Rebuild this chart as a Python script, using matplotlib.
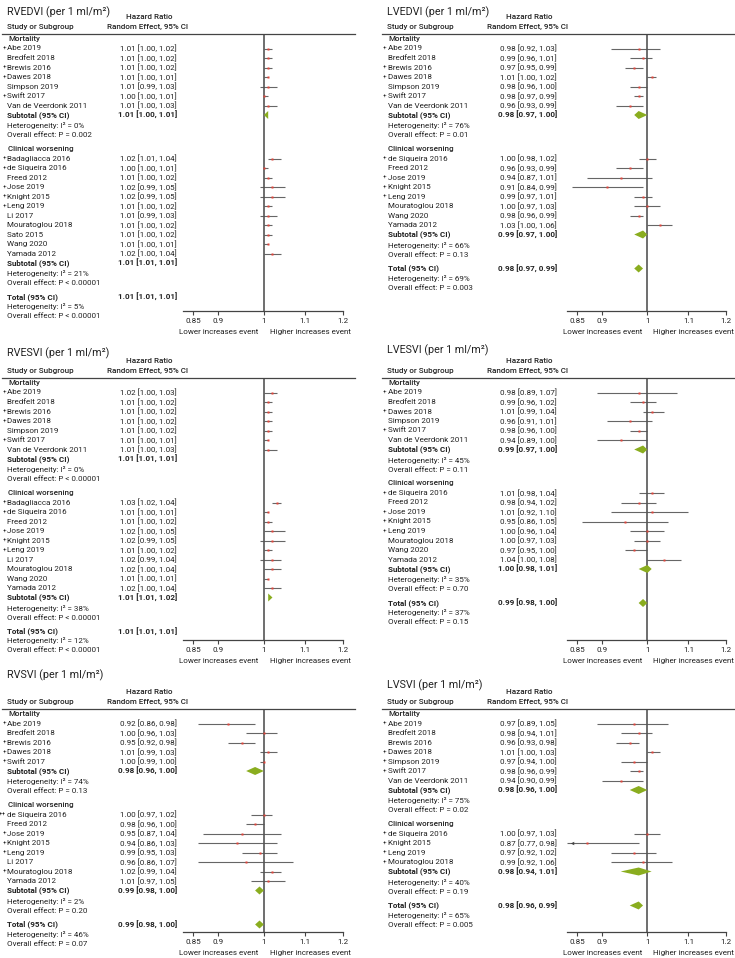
import matplotlib
matplotlib.use('Agg')
import matplotlib.pyplot as plt
from matplotlib import transforms
from matplotlib.lines import Line2D

plt.rcParams['font.family'] = ['Roboto', 'DejaVu Sans']

# ---------------- data ----------------
# RVEDVI
rvedvi_study = ['Abe 2019', 'Bredfelt 2018', 'Brewis 2016', 'Dawes 2018', 'Simpson 2019', 'Swift 2017',
                'Van de Veerdonk 2011', 'Badagliacca 2016', 'de Siqueira 2016', 'Freed 2012', 'Jose 2019',
                'Knight 2015', 'Leng 2019', 'Li 2017', 'Mouratoglou 2018', 'Sato 2015', 'Wang 2020', 'Yamada 2012']
rvedvi_mark = ['+', '', '+', '+', '', '+', '', '+', '+', '', '+', '+', '+', '', '', '', '', '']
rvedvi_n = [7, 11]
rvedvi_hr = [1.01, 1.01, 1.01, 1.01, 1.01, 1.00, 1.01, 1.02, 1.00, 1.01, 1.02, 1.02, 1.01, 1.01, 1.01, 1.01, 1.01, 1.02]
rvedvi_lo = [1.00, 1.00, 1.00, 1.00, 0.99, 1.00, 1.00, 1.01, 1.00, 1.00, 0.99, 0.99, 1.00, 0.99, 1.00, 1.00, 1.00, 1.00]
rvedvi_hi = [1.02, 1.02, 1.02, 1.01, 1.03, 1.01, 1.03, 1.04, 1.01, 1.02, 1.05, 1.05, 1.02, 1.03, 1.02, 1.02, 1.01, 1.04]
rvedvi_pool = [[1.01, 1.00, 1.01], [1.01, 1.01, 1.01], [1.01, 1.01, 1.01]]
rvedvi_i2 = [0, 21, 5]
rvedvi_p = ['P = 0.002', 'P < 0.00001', 'P < 0.00001']

# LVEDVI
lvedvi_study = ['Abe 2019', 'Bredfelt 2018', 'Brewis 2016', 'Dawes 2018', 'Simpson 2019', 'Swift 2017',
                'Van de Veerdonk 2011', 'de Siqueira 2016', 'Freed 2012', 'Jose 2019', 'Knight 2015',
                'Leng 2019', 'Mouratoglou 2018', 'Wang 2020', 'Yamada 2012']
lvedvi_mark = ['+', '', '+', '+', '', '+', '', '+', '', '+', '+', '+', '', '', '']
lvedvi_n = [7, 8]
lvedvi_hr = [0.98, 0.99, 0.97, 1.01, 0.98, 0.98, 0.96, 1.00, 0.96, 0.94, 0.91, 0.99, 1.00, 0.98, 1.03]
lvedvi_lo = [0.92, 0.96, 0.95, 1.00, 0.96, 0.97, 0.93, 0.98, 0.93, 0.87, 0.84, 0.97, 0.97, 0.96, 1.00]
lvedvi_hi = [1.03, 1.01, 0.99, 1.02, 1.00, 0.99, 0.99, 1.02, 0.99, 1.01, 0.99, 1.01, 1.03, 0.99, 1.06]
lvedvi_pool = [[0.98, 0.97, 1.00], [0.99, 0.97, 1.00], [0.98, 0.97, 0.99]]
lvedvi_i2 = [76, 66, 69]
lvedvi_p = ['P = 0.01', 'P = 0.13', 'P = 0.003']

# RVESVI
rvesvi_study = ['Abe 2019', 'Bredfelt 2018', 'Brewis 2016', 'Dawes 2018', 'Simpson 2019', 'Swift 2017',
                'Van de Veerdonk 2011', 'Badagliacca 2016', 'de Siqueira 2016', 'Freed 2012', 'Jose 2019',
                'Knight 2015', 'Leng 2019', 'Li 2017', 'Mouratoglou 2018', 'Wang 2020', 'Yamada 2012']
rvesvi_mark = ['+', '', '+', '+', '', '+', '', '+', '+', '', '+', '+', '+', '', '', '', '']
rvesvi_n = [7, 10]
rvesvi_hr = [1.02, 1.01, 1.01, 1.01, 1.01, 1.01, 1.01, 1.03, 1.01, 1.01, 1.02, 1.02, 1.01, 1.02, 1.02, 1.01, 1.02]
rvesvi_lo = [1.00, 1.00, 1.00, 1.00, 1.00, 1.00, 1.00, 1.02, 1.00, 1.00, 1.00, 0.99, 1.00, 0.99, 1.00, 1.00, 1.00]
rvesvi_hi = [1.03, 1.02, 1.02, 1.02, 1.02, 1.01, 1.03, 1.04, 1.01, 1.02, 1.05, 1.05, 1.02, 1.04, 1.04, 1.01, 1.04]
rvesvi_pool = [[1.01, 1.01, 1.01], [1.01, 1.01, 1.02], [1.01, 1.01, 1.01]]
rvesvi_i2 = [0, 38, 12]
rvesvi_p = ['P < 0.00001', 'P < 0.00001', 'P < 0.00001']

# LVESVI
lvesvi_study = ['Abe 2019', 'Bredfelt 2018', 'Dawes 2018', 'Simpson 2019', 'Swift 2017', 'Van de Veerdonk 2011',
                'de Siqueira 2016', 'Freed 2012', 'Jose 2019', 'Knight 2015', 'Leng 2019', 'Mouratoglou 2018',
                'Wang 2020', 'Yamada 2012']
lvesvi_mark = ['+', '', '+', '', '+', '', '+', '', '+', '+', '+', '', '', '']
lvesvi_n = [6, 8]
lvesvi_hr = [0.98, 0.99, 1.01, 0.96, 0.98, 0.94, 1.01, 0.98, 1.01, 0.95, 1.00, 1.00, 0.97, 1.04]
lvesvi_lo = [0.89, 0.96, 0.99, 0.91, 0.96, 0.89, 0.98, 0.94, 0.92, 0.86, 0.96, 0.97, 0.95, 1.00]
lvesvi_hi = [1.07, 1.02, 1.04, 1.01, 1.00, 1.00, 1.04, 1.02, 1.10, 1.05, 1.04, 1.03, 1.00, 1.08]
lvesvi_pool = [[0.99, 0.97, 1.00], [1.00, 0.98, 1.01], [0.99, 0.98, 1.00]]
lvesvi_i2 = [45, 35, 37]
lvesvi_p = ['P = 0.11', 'P = 0.70', 'P = 0.15']

# RVSVI
rvsvi_study = ['Abe 2019', 'Bredfelt 2018', 'Brewis 2016', 'Dawes 2018', 'Swift 2017',
               'de Siqueira 2016', 'Freed 2012', 'Jose 2019', 'Knight 2015', 'Leng 2019', 'Li 2017',
               'Mouratoglou 2018', 'Yamada 2012']
rvsvi_mark = ['+', '', '+', '+', '+', '++', '', '+', '+', '+', '', '+', '']
rvsvi_n = [5, 8]
rvsvi_hr = [0.92, 1.00, 0.95, 1.01, 1.00, 1.00, 0.98, 0.95, 0.94, 0.99, 0.96, 1.02, 1.01]
rvsvi_lo = [0.86, 0.96, 0.92, 0.99, 0.99, 0.97, 0.96, 0.87, 0.86, 0.95, 0.86, 0.99, 0.97]
rvsvi_hi = [0.98, 1.03, 0.98, 1.03, 1.00, 1.02, 1.00, 1.04, 1.03, 1.03, 1.07, 1.04, 1.05]
rvsvi_pool = [[0.98, 0.96, 1.00], [0.99, 0.98, 1.00], [0.99, 0.98, 1.00]]
rvsvi_i2 = [74, 2, 46]
rvsvi_p = ['P = 0.13', 'P = 0.20', 'P = 0.07']

# LVSVI
lvsvi_study = ['Abe 2019', 'Bredfelt 2018', 'Brewis 2016', 'Dawes 2018', 'Simpson 2019', 'Swift 2017',
               'Van de Veerdonk 2011', 'de Siqueira 2016', 'Knight 2015', 'Leng 2019', 'Mouratoglou 2018']
lvsvi_mark = ['+', '', '', '+', '+', '+', '', '+', '+', '+', '+']
lvsvi_n = [7, 4]
lvsvi_hr = [0.97, 0.98, 0.96, 1.01, 0.97, 0.98, 0.94, 1.00, 0.87, 0.97, 0.99]
lvsvi_lo = [0.89, 0.94, 0.93, 1.00, 0.94, 0.96, 0.90, 0.97, 0.77, 0.92, 0.92]
lvsvi_hi = [1.05, 1.01, 0.98, 1.03, 1.00, 0.99, 0.99, 1.03, 0.98, 1.02, 1.06]
lvsvi_pool = [[0.98, 0.96, 1.00], [0.98, 0.94, 1.01], [0.98, 0.96, 0.99]]
lvsvi_i2 = [75, 40, 65]
lvsvi_p = ['P = 0.02', 'P = 0.19', 'P = 0.005']

groups = ['Mortality', 'Clinical worsening']
ticks = [0.85, 0.9, 1, 1.1, 1.2]
tick_labels = ['0.85', '0.9', '1', '1.1', '1.2']

# ---------------- layout ----------------
W, H = 735, 958
TXT = '#222222'
RED = '#e0443a'
GREEN = '#8aad1f'
GREY = '#666666'

fig = plt.figure(figsize=(W / 100, H / 100), dpi=100)
renderer = fig.canvas.get_renderer()


def fit_size(s, target_px, **kw):
    # font size giving the text the pixel width seen in the reference
    t = fig.text(0, 0, s, fontsize=10, **kw)
    w = t.get_window_extent(renderer).width
    t.remove()
    return 10 * target_px / w


FS = (fit_size('Higher increases event', 78) + fit_size('Van de Veerdonk 2011', 84)) / 2
FS_T = fit_size('RVEDVI (per 1 ml/m²)', 103)

col_text = [0, 380]
col_axes = [(183, 343), (567, 726)]
row_geom = [(34, 311), (378, 640), (709, 932)]
title_y = [[12, 12], [353, 350], [675, 685]]


def draw_panel(r, c, title, study, mark, n, hr, lo, hi, pool, i2, p):
    line_y, axis_y = row_geom[r]
    ox = col_text[c]
    x0, x1 = col_axes[c]
    ax = fig.add_axes([x0 / W, 1 - axis_y / H, (x1 - x0) / W, (axis_y - line_y) / H])
    ax.set_xscale('log')
    xmin = 0.83
    ax.set_xlim(xmin, 1.2)
    ax.set_ylim(axis_y, line_y)
    tr = transforms.blended_transform_factory(fig.transFigure, ax.transData)

    def txt(x, y, s, size=FS, **kw):
        ax.text((ox + x) / W, y, s, transform=tr, fontsize=size, color=TXT, va='center', **kw)

    # title and headers
    fig.text((ox + 7) / W, 1 - title_y[r][c] / H, title + ' (per 1 ml/m²)', fontsize=FS_T,
             color=TXT, va='center')
    txt(149, line_y - 17, 'Hazard Ratio', weight='medium', ha='center')
    txt(148, line_y - 7, 'Random Effect, 95% CI', weight='medium', ha='center')
    txt(7, line_y - 7, 'Study or Subgroup', weight='medium')
    fig.add_artist(Line2D([(ox + 2) / W, (ox + 355) / W], [1 - line_y / H] * 2,
                          color='#444444', lw=0.9, transform=fig.transFigure))

    step, gap = 9.5, 4.5
    y = line_y + 5
    k = 0

    def diamond(y, est, l, h):
        ax.fill([l, est, h, est], [y, y - 4, y, y + 4], color=GREEN, lw=0, zorder=3)

    for g in range(2):
        if g == 1:
            y += gap
        txt(8, y, groups[g], weight='medium')
        y += step
        for j in range(n[g]):
            if mark[k]:
                txt(6.5, y, mark[k], size=FS * 0.8, ha='right')
            txt(7.5, y, study[k])
            txt(177, y, f'{hr[k]:.2f} [{lo[k]:.2f}, {hi[k]:.2f}]', ha='right')
            if lo[k] < xmin:
                ax.hlines(y, xmin, hi[k], color=GREY, lw=0.8, clip_on=False)
                ax.plot(0.84, y, marker='<', ms=2.5, color='#444444', mec='none')
            else:
                ax.hlines(y, lo[k], hi[k], color=GREY, lw=0.8)
            ax.plot(hr[k], y, 's', ms=1.7, color=RED, mec='none', zorder=3)
            k += 1
            y += step
        est, l, h = pool[g]
        txt(7.5, y, 'Subtotal (95% CI)', weight='bold')
        txt(177, y, f'{est:.2f} [{l:.2f}, {h:.2f}]', ha='right', weight='bold')
        diamond(y, est, l, h)
        y += step + 1
        txt(7.5, y, f'Heterogeneity: I² = {i2[g]}%')
        y += step
        txt(7.5, y, f'Overall effect: {p[g]}')
        y += step

    y += gap
    est, l, h = pool[2]
    txt(7.5, y, 'Total (95% CI)', weight='bold')
    txt(177, y, f'{est:.2f} [{l:.2f}, {h:.2f}]', ha='right', weight='bold')
    diamond(y, est, l, h)
    y += step
    txt(7.5, y, f'Heterogeneity: I² = {i2[2]}%')
    y += step
    txt(7.5, y, f'Overall effect: {p[2]}')

    # axis
    ax.axvline(1, color='#555555', lw=1.2, zorder=2)
    for s in ['left', 'top', 'right']:
        ax.spines[s].set_visible(False)
    ax.spines['bottom'].set_color('#444444')
    ax.spines['bottom'].set_linewidth(0.9)
    ax.set_yticks([])
    ax.set_xticks(ticks)
    ax.set_xticklabels(tick_labels)
    ax.minorticks_off()
    ax.tick_params(axis='x', labelsize=FS, length=3, pad=2, colors='#444444', labelcolor=TXT)
    trb = transforms.blended_transform_factory(ax.transData, fig.transFigure)
    ax.text(0.988, 1 - (axis_y + 21) / H, 'Lower increases event', transform=trb, ha='right',
            va='center', fontsize=FS, color=TXT)
    ax.text(1.014, 1 - (axis_y + 21) / H, 'Higher increases event', transform=trb, ha='left',
            va='center', fontsize=FS, color=TXT)


draw_panel(0, 0, 'RVEDVI', rvedvi_study, rvedvi_mark, rvedvi_n, rvedvi_hr, rvedvi_lo, rvedvi_hi,
           rvedvi_pool, rvedvi_i2, rvedvi_p)
draw_panel(0, 1, 'LVEDVI', lvedvi_study, lvedvi_mark, lvedvi_n, lvedvi_hr, lvedvi_lo, lvedvi_hi,
           lvedvi_pool, lvedvi_i2, lvedvi_p)
draw_panel(1, 0, 'RVESVI', rvesvi_study, rvesvi_mark, rvesvi_n, rvesvi_hr, rvesvi_lo, rvesvi_hi,
           rvesvi_pool, rvesvi_i2, rvesvi_p)
draw_panel(1, 1, 'LVESVI', lvesvi_study, lvesvi_mark, lvesvi_n, lvesvi_hr, lvesvi_lo, lvesvi_hi,
           lvesvi_pool, lvesvi_i2, lvesvi_p)
draw_panel(2, 0, 'RVSVI', rvsvi_study, rvsvi_mark, rvsvi_n, rvsvi_hr, rvsvi_lo, rvsvi_hi,
           rvsvi_pool, rvsvi_i2, rvsvi_p)
draw_panel(2, 1, 'LVSVI', lvsvi_study, lvsvi_mark, lvsvi_n, lvsvi_hr, lvsvi_lo, lvsvi_hi,
           lvsvi_pool, lvsvi_i2, lvsvi_p)

plt.savefig('out.png', dpi=100)
